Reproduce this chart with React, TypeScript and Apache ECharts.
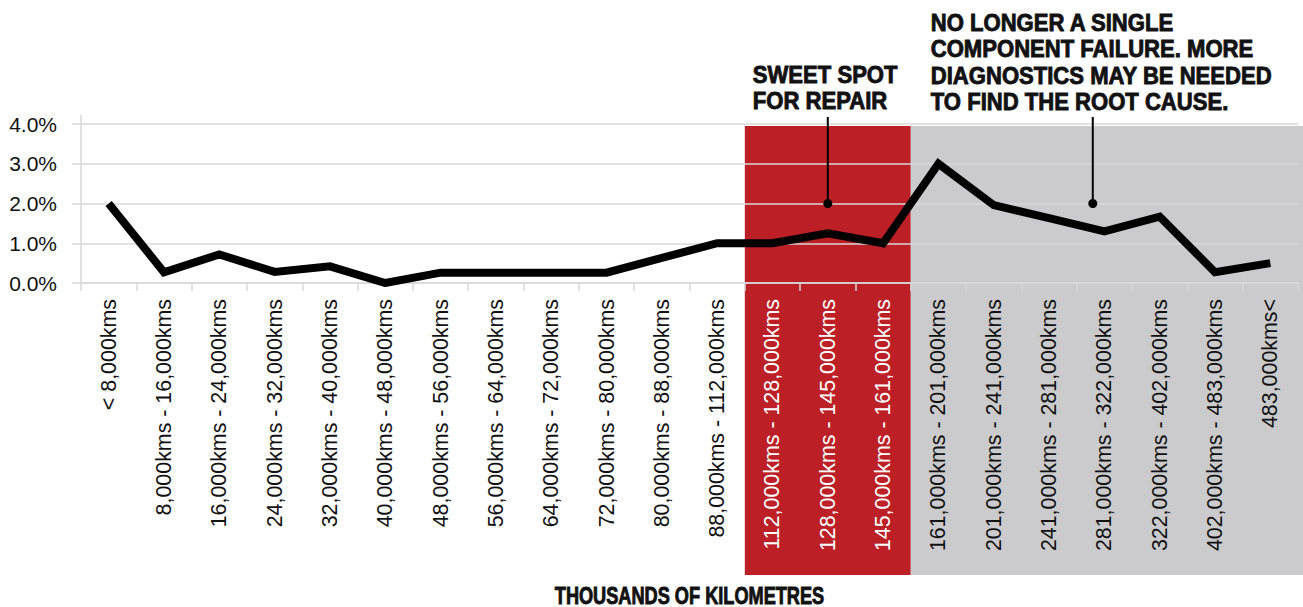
import React, { useEffect, useRef } from "react";
import * as echarts from "echarts";

const categories = [
  "< 8,000kms",
  "8,000kms - 16,000kms",
  "16,000kms - 24,000kms",
  "24,000kms - 32,000kms",
  "32,000kms - 40,000kms",
  "40,000kms - 48,000kms",
  "48,000kms - 56,000kms",
  "56,000kms - 64,000kms",
  "64,000kms - 72,000kms",
  "72,000kms - 80,000kms",
  "80,000kms - 88,000kms",
  "88,000kms - 112,000kms",
  "112,000kms - 128,000kms",
  "128,000kms - 145,000kms",
  "145,000kms - 161,000kms",
  "161,000kms - 201,000kms",
  "201,000kms - 241,000kms",
  "241,000kms - 281,000kms",
  "281,000kms - 322,000kms",
  "322,000kms - 402,000kms",
  "402,000kms - 483,000kms",
  "483,000kms<",
];

const values = [2.0, 0.27, 0.72, 0.28, 0.42, 0.0, 0.26, 0.26, 0.26, 0.26, 0.63, 1.0, 1.0, 1.25, 1.0, 3.0, 1.96, 1.63, 1.3, 1.67, 0.27, 0.5];

const yTicks = [0, 1, 2, 3, 4];

const redBand = [12, 14];
const greyBand = [15, 21];

const sweetSpotText = ["SWEET SPOT", "FOR REPAIR"];
const rootCauseText = [
  "NO LONGER A SINGLE",
  "COMPONENT FAILURE. MORE",
  "DIAGNOSTICS MAY BE NEEDED",
  "TO FIND THE ROOT CAUSE.",
];
const axisTitle = "THOUSANDS OF KILOMETRES";

const HEAD_FONT = "'Liberation Sans', Arial, sans-serif";
const LABEL_FONT = "'Liberation Sans', Arial, sans-serif";
const RED = "#bd1f26";
const GREY = "#cbcbcd";
const GRID_COLOR = "#d9d9d9";

export default function App() {
  const ref = useRef<HTMLDivElement>(null);

  useEffect(() => {
    document.body.style.margin = "0";
    if (!ref.current) return;
    const chart = echarts.init(ref.current, null, { renderer: "svg" });
    const W = 1303;
    chart.setOption({
      animation: false,
      backgroundColor: "#ffffff",
      grid: { left: 81, right: 5, top: 124, bottom: 324, containLabel: false },
      xAxis: {
        type: "category",
        data: categories.map((c, i) => ({
          value: c,
          textStyle: { color: i >= redBand[0] && i <= redBand[1] ? "#ffffff" : "#111111" },
        })),
        boundaryGap: true,
        axisLine: { show: true, lineStyle: { color: GRID_COLOR, width: 1.5 } },
        axisTick: { show: true, length: 8, alignWithLabel: false, lineStyle: { color: GRID_COLOR, width: 1.5 } },
        axisLabel: {
          rotate: 90,
          interval: 0,
          margin: 16,
          fontSize: 21.4,
          fontFamily: LABEL_FONT,
          color: "#111111",
        },
        splitLine: { show: false },
      },
      yAxis: {
        type: "value",
        min: 0,
        max: 4,
        interval: 1,
        axisLine: { show: true, lineStyle: { color: GRID_COLOR, width: 1.5 } },
        axisTick: { show: true, length: 9, lineStyle: { color: GRID_COLOR, width: 1.5 } },
        axisLabel: {
          margin: 24,
          fontSize: 21,
          fontFamily: LABEL_FONT,
          color: "#111111",
          formatter: (v: number) => v.toFixed(1) + "%",
        },
        splitLine: { show: true, lineStyle: { color: GRID_COLOR, width: 1.5 } },
      },
      series: [
        {
          type: "line",
          data: values,
          showSymbol: false,
          symbol: "none",
          z: 5,
          lineStyle: { color: "#000000", width: 8, join: "miter", cap: "butt" },
        },
      ],
    });

    const p = (i: number, v: number) => chart.convertToPixel({ gridIndex: 0 }, [i, v]) as number[];
    const step = p(1, 0)[0] - p(0, 0)[0];
    const yTop = p(0, yTicks[yTicks.length - 1])[1];
    const redL = p(redBand[0], 0)[0] - step / 2;
    const redR = p(redBand[1], 0)[0] + step / 2;
    const greyL = p(greyBand[0], 0)[0] - step / 2;
    const bandTop = yTop + 2;
    const bandBottom = 575;
    const axisX = p(0, 0)[0] - step / 2;

    const dot1x = p(13, 0)[0];
    const dot1y = p(13, 2)[1];
    const dot2x = p(17, 0)[0] + 0.79 * step;
    const dot2y = p(18, 2)[1];

    const headStyle = { fill: "#111", stroke: "#111", lineWidth: 0.9, verticalAlign: "top", align: "left" };

    chart.setOption({
      graphic: [
        { type: "rect", z: -10, silent: true, shape: { x: redL, y: bandTop, width: redR - redL, height: bandBottom - bandTop }, style: { fill: RED } },
        { type: "rect", z: -10, silent: true, shape: { x: greyL, y: bandTop, width: W - greyL, height: bandBottom - bandTop }, style: { fill: GREY } },
        { type: "line", z: 1, silent: true, shape: { x1: axisX, y1: yTop - 9, x2: axisX, y2: yTop }, style: { stroke: GRID_COLOR, lineWidth: 1.5 } },
        { type: "line", z: 10, silent: true, shape: { x1: dot1x, y1: 117, x2: dot1x, y2: dot1y }, style: { stroke: "#000", lineWidth: 2 } },
        { type: "circle", z: 10, silent: true, shape: { cx: dot1x, cy: dot1y, r: 4.5 }, style: { fill: "#000" } },
        { type: "line", z: 10, silent: true, shape: { x1: dot2x, y1: 117, x2: dot2x, y2: dot2y }, style: { stroke: "#000", lineWidth: 2 } },
        { type: "circle", z: 10, silent: true, shape: { cx: dot2x, cy: dot2y, r: 4.5 }, style: { fill: "#000" } },
        {
          type: "text", z: 10, silent: true, x: redL + 8, y: 62, scaleX: 0.92,
          style: { ...headStyle, text: sweetSpotText.join("\n"), font: `bold 24px ${HEAD_FONT}`, lineHeight: 26 },
        },
        {
          type: "text", z: 10, silent: true, x: greyL + 20, y: 9, scaleX: 0.92,
          style: { ...headStyle, text: rootCauseText.join("\n"), font: `bold 24px ${HEAD_FONT}`, lineHeight: 26.5 },
        },
        {
          type: "text", z: 10, silent: true, x: (p(0, 0)[0] - step / 2 + p(21, 0)[0] + step / 2) / 2, y: 584, scaleX: 0.79,
          style: { ...headStyle, align: "center", text: axisTitle, font: `bold 23px ${HEAD_FONT}` },
        },
      ],
    });

    return () => chart.dispose();
  }, []);

  return <div ref={ref} style={{ position: "fixed", left: 0, top: 0, width: 1303, height: 607 }} />;
}
